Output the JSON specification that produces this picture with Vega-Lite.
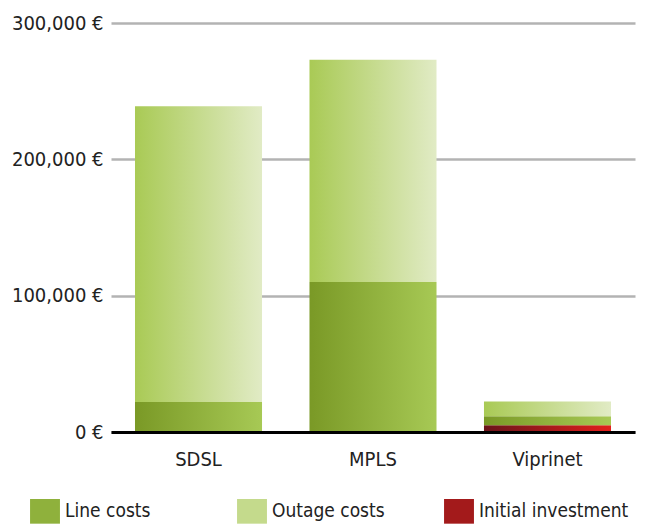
{
  "$schema": "https://vega.github.io/schema/vega-lite/v6.json",
  "autosize": "none",
  "padding": {"left": 111, "top": 23, "right": 16, "bottom": 92},
  "width": 524,
  "height": 409,
  "background": "white",
  "config": {
    "font": "DejaVu Sans Condensed, sans-serif",
    "view": {"stroke": null}
  },
  "data": {
    "values": [
      {"network": "SDSL", "cost": "Initial investment", "stackOrder": 0, "amount": 0},
      {"network": "SDSL", "cost": "Line costs", "stackOrder": 1, "amount": 22000},
      {"network": "SDSL", "cost": "Outage costs", "stackOrder": 2, "amount": 217000},
      {"network": "MPLS", "cost": "Initial investment", "stackOrder": 0, "amount": 0},
      {"network": "MPLS", "cost": "Line costs", "stackOrder": 1, "amount": 110000},
      {"network": "MPLS", "cost": "Outage costs", "stackOrder": 2, "amount": 163000},
      {"network": "Viprinet", "cost": "Initial investment", "stackOrder": 0, "amount": 5000},
      {"network": "Viprinet", "cost": "Line costs", "stackOrder": 1, "amount": 6600},
      {"network": "Viprinet", "cost": "Outage costs", "stackOrder": 2, "amount": 10700}
    ]
  },
  "encoding": {
    "x": {
      "field": "network",
      "type": "nominal",
      "sort": ["SDSL", "MPLS", "Viprinet"],
      "scale": {"paddingInner": 0.272, "paddingOuter": 0.1375},
      "axis": {
        "title": null,
        "labelAngle": 0,
        "labelFontSize": 20,
        "labelColor": "#222222",
        "labelPadding": 17,
        "ticks": false,
        "domainColor": "#000000",
        "domainWidth": 3,
        "zindex": 2
      }
    },
    "y": {
      "field": "amount",
      "type": "quantitative",
      "stack": "zero",
      "scale": {"domain": [0, 300000], "nice": false},
      "axis": {
        "title": null,
        "values": [0, 100000, 200000, 300000],
        "labelExpr": "format(datum.value, ',') + ' €'",
        "labelFontSize": 20,
        "labelColor": "#222222",
        "labelPadding": 8,
        "ticks": false,
        "domain": false,
        "gridColor": "#b3b3b3",
        "gridWidth": 2.5,
        "gridOpacity": 1
      }
    },
    "order": {"field": "stackOrder", "type": "quantitative"}
  },
  "layer": [
    {
      "mark": {"type": "bar", "opacity": 0},
      "encoding": {
        "color": {
          "field": "cost",
          "type": "nominal",
          "scale": {
            "domain": ["Line costs", "Outage costs", "Initial investment"],
            "range": ["#8fb13c", "#c4da8c", "#a31a1b"]
          },
          "legend": {
            "title": null,
            "orient": "none",
            "legendX": -79,
            "legendY": 475,
            "direction": "horizontal",
            "columns": 3,
            "gridAlign": "all",
            "columnPadding": 22,
            "symbolType": "M-1.15,-0.95H1.15V0.95H-1.15Z",
            "symbolSize": 676,
            "symbolStrokeWidth": 0,
            "symbolOpacity": 1,
            "labelFontSize": 19,
            "labelColor": "#222222",
            "labelOffset": 7,
            "labelLimit": 300
          }
        }
      }
    },
    {
      "mark": {"type": "bar", "opacity": 1},
      "encoding": {
        "detail": {"field": "cost", "type": "nominal"},
        "fill": {
          "condition": [
            {"test": "datum.cost == 'Line costs'", "value": {"gradient": "linear", "x1": 0, "y1": 0, "x2": 1, "y2": 0, "stops": [{"offset": 0, "color": "#7a9926"}, {"offset": 1, "color": "#a7c955"}]}},
            {"test": "datum.cost == 'Outage costs'", "value": {"gradient": "linear", "x1": 0, "y1": 0, "x2": 1, "y2": 0, "stops": [{"offset": 0, "color": "#a9ca55"}, {"offset": 1, "color": "#e1ebc5"}]}}
          ],
          "value": {"gradient": "linear", "x1": 0, "y1": 0, "x2": 1, "y2": 0, "stops": [{"offset": 0, "color": "#6a141a"}, {"offset": 1, "color": "#e2201c"}]}
        }
      }
    }
  ]
}
